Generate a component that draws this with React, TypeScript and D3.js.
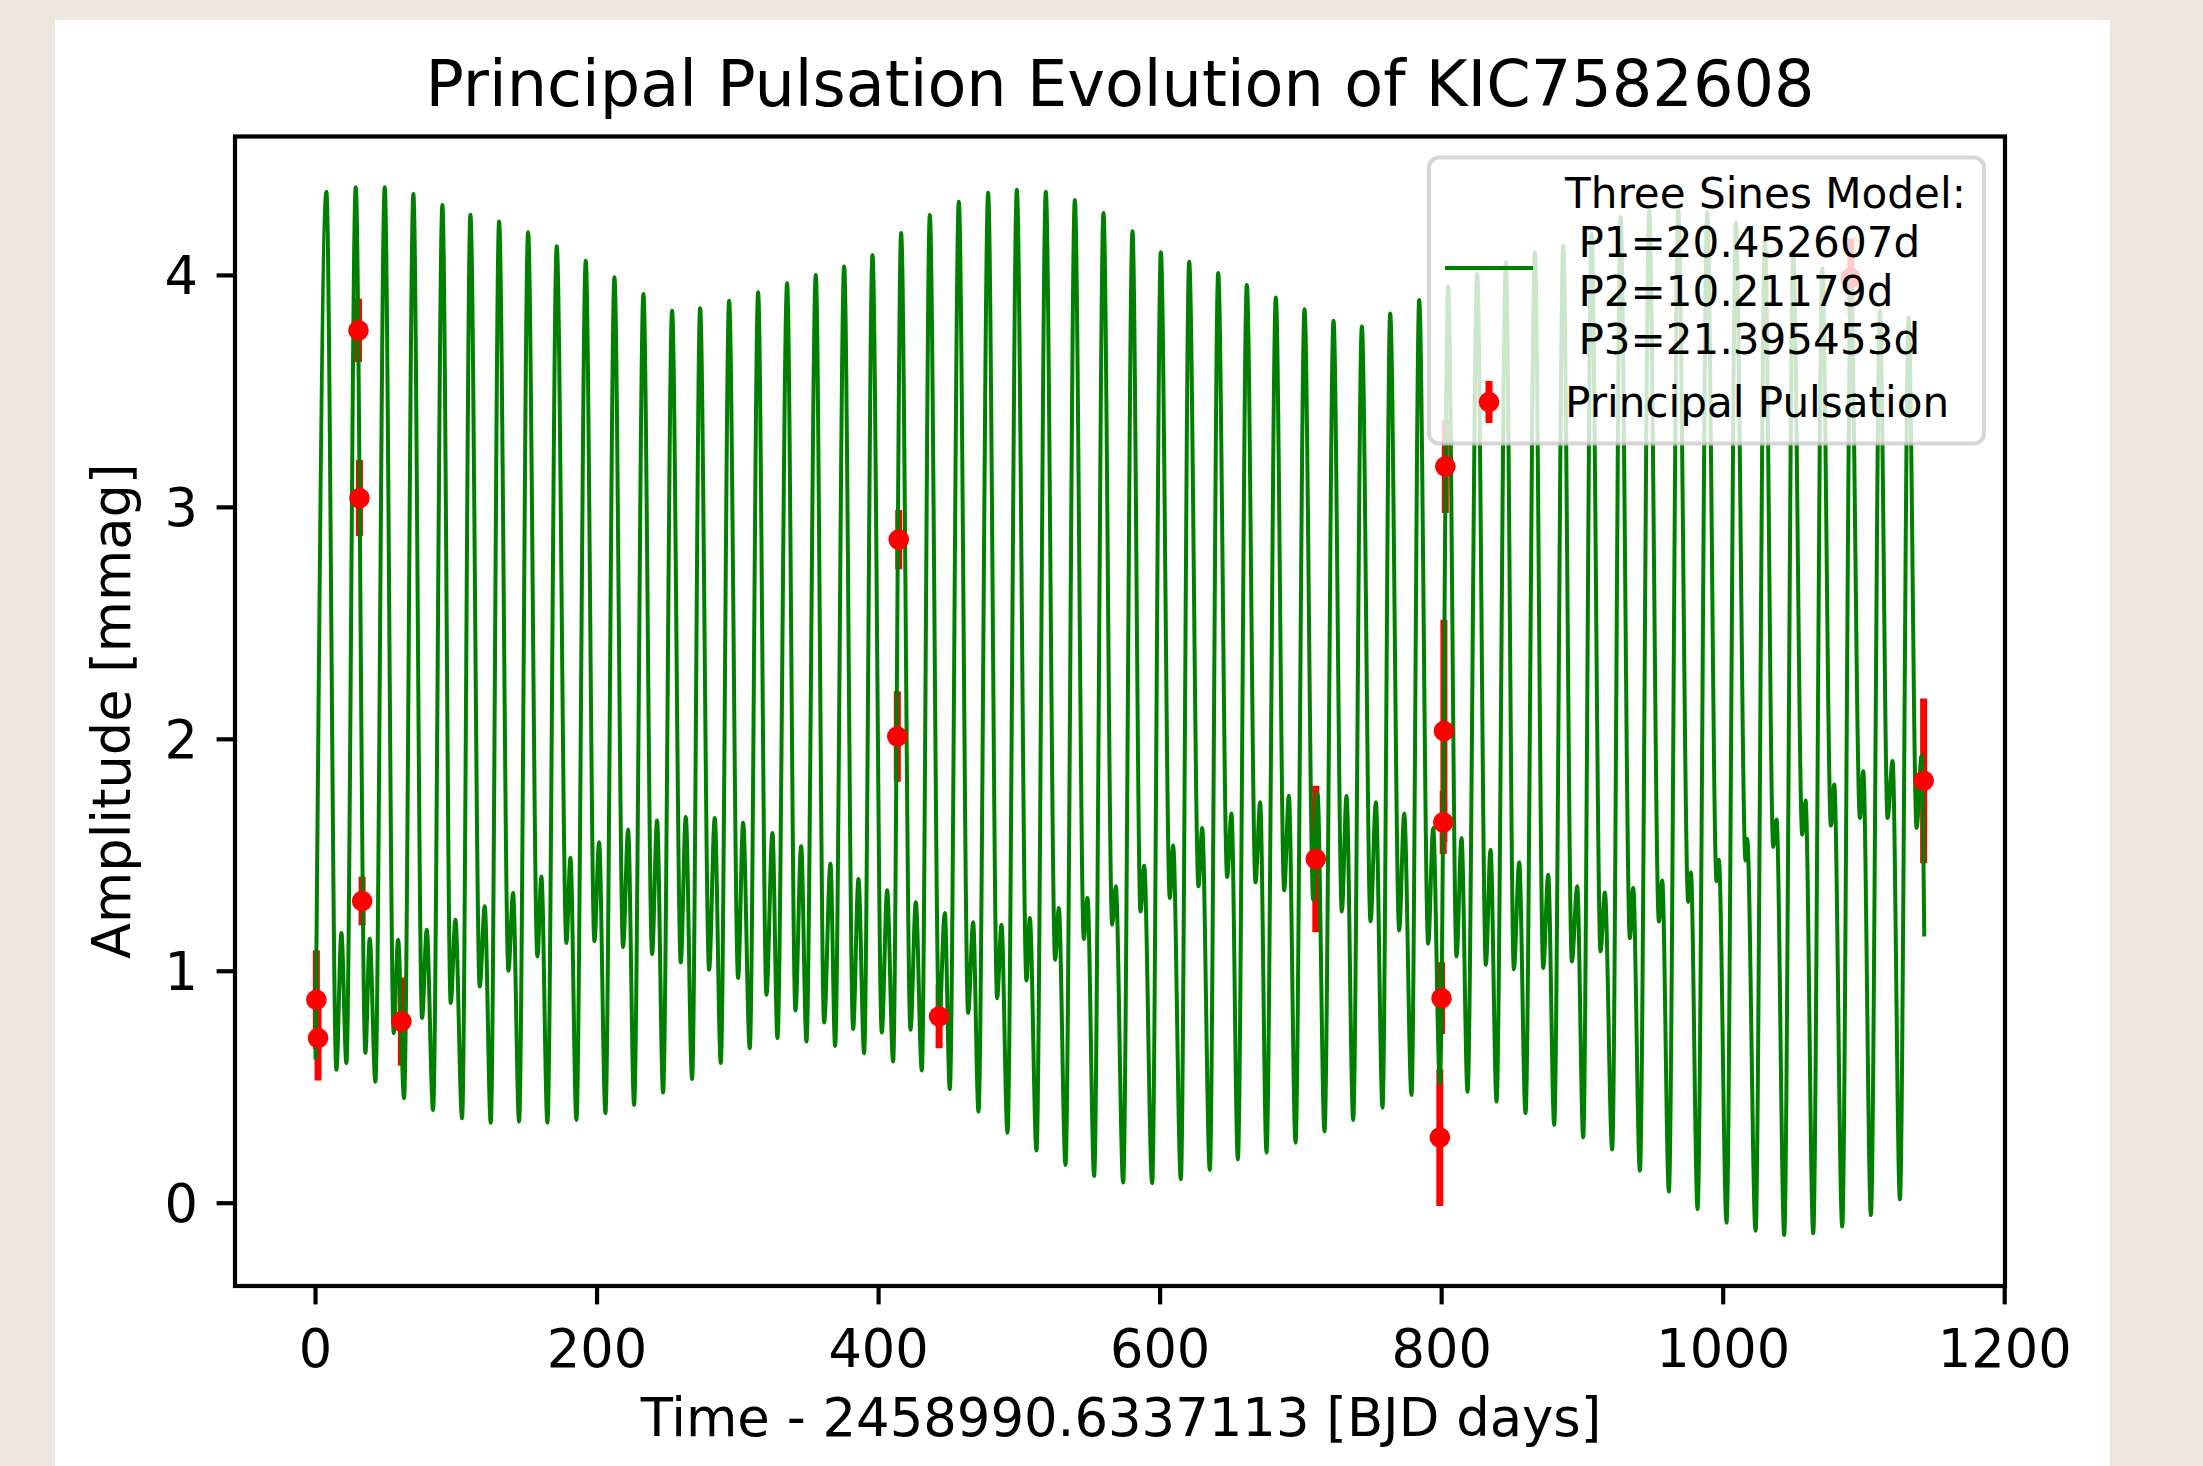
import React from "react";
import * as d3 from "d3";

// ---- data ----
// Three-sines model curve, read per pulsation cycle as its extrema
const peakT = [7.72, 28.56, 49.16, 69.53, 90.13, 110.03, 130.4, 151.0, 171.37, 191.97, 212.34, 232.94, 253.31, 273.21, 293.81, 314.41, 335.02, 355.39, 375.52, 395.65, 416.02, 436.38, 456.99, 477.83, 498.2, 518.8, 539.41, 559.76, 580.37, 600.5, 620.63, 641.23, 661.6, 682.21, 702.57, 723.18, 743.31, 763.44, 784.04, 804.65, 825.25, 845.63, 866.22, 886.35, 906.48, 927.08, 947.45, 968.05, 988.66, 1009.03, 1029.63, 1049.76, 1070.36, 1090.73, 1111.34, 1131.71];
const peakV = [4.361, 4.38, 4.38, 4.351, 4.304, 4.262, 4.232, 4.186, 4.126, 4.063, 3.992, 3.92, 3.848, 3.858, 3.891, 3.927, 3.966, 4.002, 4.039, 4.088, 4.183, 4.261, 4.318, 4.356, 4.369, 4.361, 4.325, 4.269, 4.19, 4.1, 4.059, 4.01, 3.959, 3.905, 3.854, 3.805, 3.78, 3.836, 3.894, 3.953, 4.006, 4.057, 4.1, 4.128, 4.179, 4.251, 4.279, 4.287, 4.272, 4.229, 4.16, 4.1, 4.03, 3.94, 3.848, 3.819];
const dipT = [14.82, 35.43, 55.56, 75.69, 96.05, 116.66, 137.03, 157.63, 178.23, 198.13, 218.5, 239.1, 259.47, 279.6, 300.21, 320.34, 340.94, 361.31, 381.91, 402.28, 422.65, 443.02, 463.62, 484.22, 505.06, 525.43, 545.8, 565.92, 586.05, 606.89, 627.26, 647.63, 667.76, 688.13, 708.73, 729.1, 749.47, 769.83, 790.44, 810.57, 831.41, 851.3, 872.14, 892.51, 912.87, 933.71, 954.32, 975.16, 995.29, 1015.89, 1035.55, 1056.15, 1076.53, 1097.13, 1116.79, 1137.39];
const dipV = [0.575, 0.648, 0.733, 0.798, 0.863, 0.934, 1.002, 1.064, 1.122, 1.129, 1.104, 1.074, 1.038, 1.006, 0.971, 0.899, 0.831, 0.779, 0.751, 0.736, 0.748, 0.776, 0.82, 0.884, 0.96, 1.05, 1.139, 1.201, 1.258, 1.316, 1.366, 1.406, 1.383, 1.349, 1.309, 1.258, 1.215, 1.176, 1.119, 1.064, 1.028, 1.009, 1.014, 1.042, 1.086, 1.143, 1.215, 1.299, 1.388, 1.478, 1.536, 1.589, 1.628, 1.661, 1.661, 1.618];
const bumpT = [18.37, 38.51, 58.64, 79.0, 99.37, 120.21, 140.34, 160.47, 181.08, 201.45, 222.05, 242.65, 263.02, 283.63, 303.76, 324.6, 344.97, 365.81, 385.7, 406.07, 426.44, 447.04, 467.17, 487.3, 507.43, 528.04, 548.41, 568.53, 588.66, 609.26, 629.87, 650.71, 671.07, 691.44, 711.81, 732.41, 753.26, 773.39, 793.99, 814.12, 834.72, 855.09, 875.69, 896.3, 915.95, 936.08, 956.69, 977.05, 996.95, 1017.08, 1037.92, 1058.52, 1078.9, 1099.5, 1120.33, 1140.94];
const bumpV = [1.165, 1.14, 1.136, 1.179, 1.222, 1.28, 1.337, 1.409, 1.489, 1.556, 1.611, 1.65, 1.665, 1.661, 1.64, 1.596, 1.539, 1.464, 1.398, 1.349, 1.297, 1.251, 1.211, 1.201, 1.23, 1.273, 1.316, 1.366, 1.455, 1.542, 1.618, 1.68, 1.729, 1.757, 1.769, 1.757, 1.729, 1.68, 1.618, 1.575, 1.524, 1.47, 1.416, 1.366, 1.34, 1.359, 1.391, 1.427, 1.481, 1.571, 1.654, 1.736, 1.805, 1.862, 1.906, 1.93];
const troughT = [0.0, 21.93, 42.53, 62.9, 83.5, 104.11, 124.48, 144.61, 164.74, 185.34, 205.95, 226.31, 246.91, 267.52, 287.89, 308.49, 328.15, 348.76, 369.12, 389.73, 410.33, 430.7, 450.59, 470.96, 491.56, 512.17, 532.78, 553.14, 573.74, 594.34, 614.71, 635.31, 655.21, 675.58, 696.18, 716.78, 737.15, 757.99, 778.6, 798.73, 818.39, 838.99, 859.59, 879.95, 900.56, 921.16, 940.82, 961.42, 981.79, 1002.39, 1023.0, 1043.37, 1063.97, 1084.57, 1104.95, 1125.55, 1142.84];
const troughV = [0.62, 0.604, 0.524, 0.453, 0.402, 0.366, 0.347, 0.352, 0.347, 0.359, 0.388, 0.424, 0.477, 0.535, 0.604, 0.668, 0.712, 0.697, 0.678, 0.647, 0.611, 0.572, 0.492, 0.395, 0.304, 0.227, 0.165, 0.117, 0.089, 0.086, 0.103, 0.143, 0.189, 0.218, 0.261, 0.309, 0.359, 0.412, 0.467, 0.517, 0.481, 0.438, 0.388, 0.338, 0.284, 0.232, 0.14, 0.05, -0.026, -0.084, -0.119, -0.137, -0.13, -0.101, -0.051, 0.017, 1.15];

// Principal pulsation measurements
const pulseT = [0.6, 1.8, 30.5, 31.2, 33.1, 61.0, 414.3, 413.3, 443.0, 710.6, 798.7, 799.9, 801.1, 801.6, 802.6, 1090.7, 1142.4];
const pulseV = [0.877, 0.712, 3.763, 3.04, 1.303, 0.783, 2.861, 2.012, 0.805, 1.484, 0.283, 0.884, 1.642, 2.036, 3.176, 3.99, 1.821];
const pulseErr = [0.213, 0.183, 0.137, 0.164, 0.105, 0.19, 0.128, 0.195, 0.137, 0.316, 0.295, 0.155, 0.137, 0.48, 0.2, 0.17, 0.355];

const xTicks = [0, 200, 400, 600, 800, 1000, 1200];
const yTicks = [0, 1, 2, 3, 4];
const titleText = "Principal Pulsation Evolution of KIC7582608";
const xLabel = "Time - 2458990.6337113 [BJD days]";
const yLabel = "Amplitude [mmag]";
const legendModel = ["Three Sines Model:", " P1=20.452607d", " P2=10.21179d", " P3=21.395453d"];
const legendPulse = "Principal Pulsation";

// ---- layout ----
const W = 2203, H = 1466;
const L = 235, R = 2005, T = 136.5, B = 1286;
const FONT = "'DejaVu Sans', 'Liberation Sans', sans-serif";

export default function App() {
  const x = d3.scaleLinear().domain([-57.2, 1200.2]).range([L, R]);
  const y = d3.scaleLinear().domain([-0.357, 4.599]).range([B, T]);

  const pts: [number, number][] = [];
  peakT.forEach((t, i) => pts.push([t, peakV[i]]));
  dipT.forEach((t, i) => pts.push([t, dipV[i]]));
  bumpT.forEach((t, i) => pts.push([t, bumpV[i]]));
  troughT.forEach((t, i) => pts.push([t, troughV[i]]));
  pts.sort((a, b) => a[0] - b[0]);

  const line = d3
    .line<[number, number]>()
    .x((d) => x(d[0]))
    .y((d) => y(d[1]))
    .curve(d3.curveMonotoneX);
  const path = line(pts) || "";

  const tickLen = 18.4;
  const lw = 4.2;

  return (
    <svg
      width={W}
      height={H}
      style={{ position: "absolute", left: 0, top: 0, display: "block" }}
      fontFamily={FONT}
    >
      <rect x={0} y={0} width={W} height={H} fill="#ece8dd" />
      <rect x={55} y={20} width={2055} height={H - 20} fill="#ffffff" />

      <defs>
        <clipPath id="plotclip">
          <rect x={L} y={T} width={R - L} height={B - T} />
        </clipPath>
      </defs>

      {/* title */}
      <text x={(L + R) / 2} y={106} textAnchor="middle" fontSize={63.7} fill="#000">
        {titleText}
      </text>

      <g clipPath="url(#plotclip)">
        {/* error bars */}
        {pulseT.map((t, i) => (
          <line
            key={"eb" + i}
            x1={x(t)}
            x2={x(t)}
            y1={y(pulseV[i] - pulseErr[i])}
            y2={y(pulseV[i] + pulseErr[i])}
            stroke="#ff0000"
            strokeWidth={7}
          />
        ))}
        {/* model */}
        <path d={path} fill="none" stroke="#008000" strokeWidth={4} strokeLinejoin="round" />
        {/* markers */}
        {pulseT.map((t, i) => (
          <circle key={"m" + i} cx={x(t)} cy={y(pulseV[i])} r={10.3} fill="#ff0000" />
        ))}
      </g>

      {/* x ticks */}
      {xTicks.map((v) => (
        <g key={"xt" + v}>
          <line x1={x(v)} x2={x(v)} y1={B} y2={B + tickLen} stroke="#000" strokeWidth={lw} />
          <text x={x(v)} y={1367} textAnchor="middle" fontSize={52.6} fill="#000">
            {v}
          </text>
        </g>
      ))}
      {/* y ticks */}
      {yTicks.map((v) => (
        <g key={"yt" + v}>
          <line x1={L - tickLen} x2={L} y1={y(v)} y2={y(v)} stroke="#000" strokeWidth={lw} />
          <text x={198} y={y(v) + 19} textAnchor="end" fontSize={52.6} fill="#000">
            {v}
          </text>
        </g>
      ))}

      {/* axis labels */}
      <text x={(L + R) / 2 + 1} y={1436} textAnchor="middle" fontSize={52.8} fill="#000">
        {xLabel}
      </text>
      <text
        transform={`translate(130,${(T + B) / 2}) rotate(-90)`}
        textAnchor="middle"
        fontSize={52.6}
        fill="#000"
      >
        {yLabel}
      </text>

      {/* legend */}
      <g>
        <rect
          x={1429}
          y={157.5}
          width={555}
          height={286}
          rx={10}
          ry={10}
          fill="#ffffff"
          fillOpacity={0.8}
          stroke="#cccccc"
          strokeOpacity={0.8}
          strokeWidth={4.2}
        />
        <line x1={1445} x2={1533} y1={268} y2={268} stroke="#008000" strokeWidth={4} />
        {legendModel.map((s, i) => (
          <text
            key={"lg" + i}
            x={1565}
            y={208.3 + i * 48.6}
            fontSize={42.1}
            fill="#000"
            style={{ whiteSpace: "pre" }}
          >
            {s}
          </text>
        ))}
        <line x1={1489} x2={1489} y1={381} y2={423} stroke="#ff0000" strokeWidth={7} />
        <circle cx={1489} cy={402} r={10.3} fill="#ff0000" />
        <text x={1565} y={416.7} fontSize={42.1} fill="#000">
          {legendPulse}
        </text>
      </g>

      {/* spines */}
      <rect x={L} y={T} width={R - L} height={B - T} fill="none" stroke="#000" strokeWidth={lw} />
    </svg>
  );
}
